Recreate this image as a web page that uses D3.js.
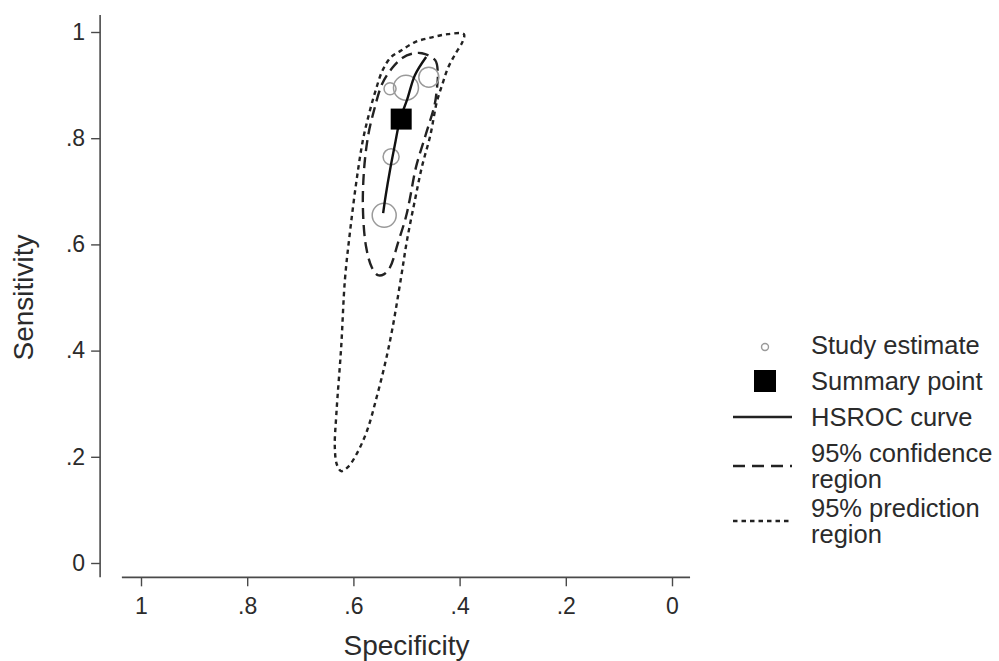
<!DOCTYPE html>
<html>
<head>
<meta charset="utf-8">
<script src="https://cdn.jsdelivr.net/npm/d3@7"></script>
<style>
  body { margin: 0; background: #fff; }
  svg text { font-family: "Liberation Sans", Arial, sans-serif; fill: #2b2b2b; }
</style>
</head>
<body>
<div id="chart"></div>
<script>
// Study estimates (specificity, sensitivity, relative weight)
const studySpec   = [0.531, 0.501, 0.458, 0.529, 0.542];
const studySens   = [0.893, 0.895, 0.915, 0.765, 0.655];
const studyWeight = [36, 156, 100, 64, 144];

// Summary operating point
const summarySpec = 0.510;
const summarySens = 0.836;

// HSROC curve
const hsrocSpec = [0.463, 0.484, 0.499, 0.512, 0.522, 0.531, 0.539, 0.544];
const hsrocSens = [0.953, 0.919, 0.872, 0.836, 0.787, 0.740, 0.693, 0.659];

// 95% confidence region
const confSpec = [0.471, 0.446, 0.441, 0.443, 0.447, 0.464, 0.482, 0.494, 0.501, 0.516, 0.531, 0.542,
                  0.554, 0.565, 0.576, 0.582, 0.580, 0.572, 0.561, 0.546, 0.527, 0.508, 0.490];
const confSens = [0.960, 0.947, 0.919, 0.891, 0.863, 0.806, 0.746, 0.684, 0.652, 0.603, 0.557, 0.544,
                  0.542, 0.556, 0.595, 0.665, 0.740, 0.806, 0.853, 0.902, 0.932, 0.951, 0.959];

// 95% prediction region
const predSpec = [0.392, 0.394, 0.409, 0.422, 0.433, 0.443, 0.455, 0.471, 0.484, 0.499, 0.511, 0.527,
                  0.540, 0.556, 0.574, 0.593, 0.610, 0.623, 0.631, 0.635, 0.632, 0.623, 0.616, 0.606,
                  0.594, 0.582, 0.571, 0.559, 0.545, 0.529, 0.512, 0.484, 0.452, 0.422];
const predSens = [0.996, 0.983, 0.957, 0.932, 0.900, 0.868, 0.806, 0.746, 0.684, 0.608, 0.533, 0.439,
                  0.377, 0.313, 0.250, 0.207, 0.181, 0.173, 0.185, 0.218, 0.282, 0.407, 0.533, 0.627,
                  0.721, 0.797, 0.844, 0.887, 0.928, 0.953, 0.964, 0.981, 0.990, 0.996];

const tickValues = [0, 0.2, 0.4, 0.6, 0.8, 1];
const legendLabels = [['Study estimate'], ['Summary point'], ['HSROC curve'],
                      ['95% confidence', 'region'], ['95% prediction', 'region']];

const W = 999, H = 661;

const svg = d3.select('#chart').append('svg')
    .attr('width', W)
    .attr('height', H);

// Scales: specificity runs from 1 down to 0
const x = d3.scaleLinear().domain([1, 0]).range([141, 672]);
const y = d3.scaleLinear().domain([0, 1]).range([563, 32]);
const r = d3.scaleSqrt().domain([0, d3.max(studyWeight)]).range([0, 12.5]);

const fmt = d => d === 0 ? '0' : d === 1 ? '1' : d3.format('.1f')(d).replace(/^0/, '');
const axisColor = '#4a4a4a';

// Y axis
const yAxisX = x(1.077);
const yAxisG = svg.append('g')
    .attr('transform', `translate(${yAxisX},0)`)
    .call(d3.axisLeft(y).tickValues(tickValues).tickFormat(fmt).tickSize(9).tickPadding(6).tickSizeOuter(0));
yAxisG.select('.domain').remove();
yAxisG.append('line')
    .attr('y1', y(1.032)).attr('y2', y(-0.027))
    .attr('stroke', axisColor).attr('stroke-width', 1.6);

// X axis
const xAxisY = y(-0.027);
const xAxisG = svg.append('g')
    .attr('transform', `translate(0,${xAxisY})`)
    .call(d3.axisBottom(x).tickValues(tickValues).tickFormat(fmt).tickSize(9).tickPadding(11).tickSizeOuter(0));
xAxisG.select('.domain').remove();
xAxisG.append('line')
    .attr('x1', x(1.036)).attr('x2', x(-0.034))
    .attr('stroke', axisColor).attr('stroke-width', 1.6);

svg.selectAll('.tick line').attr('stroke', axisColor).attr('stroke-width', 1.4);
svg.selectAll('.tick text').attr('font-size', 23).attr('fill', '#2b2b2b');

// Axis titles
svg.append('text')
    .attr('transform', `translate(33,${y(0.5)}) rotate(-90)`)
    .attr('text-anchor', 'middle')
    .attr('font-size', 28)
    .text('Sensitivity');
svg.append('text')
    .attr('x', x(0.5))
    .attr('y', 655)
    .attr('text-anchor', 'middle')
    .attr('font-size', 28)
    .text('Specificity');

// Plot marks
const plotArea = svg.append('g').attr('id', 'plot-area');

const pathOf = (specs, senss, curve) => d3.line()
    .x(d => x(d[0]))
    .y(d => y(d[1]))
    .curve(curve)(specs.map((s, i) => [s, senss[i]]));

// Prediction region (short dashes)
plotArea.append('path')
    .attr('d', pathOf(predSpec, predSens, d3.curveCatmullRomClosed.alpha(0.5)))
    .attr('fill', 'none')
    .attr('stroke', '#222')
    .attr('stroke-width', 2.4)
    .attr('stroke-dasharray', '4.5,4');

// Confidence region (long dashes)
plotArea.append('path')
    .attr('d', pathOf(confSpec, confSens, d3.curveCatmullRomClosed.alpha(0.5)))
    .attr('fill', 'none')
    .attr('stroke', '#222')
    .attr('stroke-width', 2.4)
    .attr('stroke-dasharray', '11,6');

// Study estimates
const studies = studySpec.map((s, i) => ({spec: s, sens: studySens[i], w: studyWeight[i]}));
plotArea.append('g')
  .selectAll('circle')
  .data(studies)
  .join('circle')
    .attr('cx', d => x(d.spec))
    .attr('cy', d => y(d.sens))
    .attr('r', d => r(d.w))
    .attr('fill', 'none')
    .attr('stroke', '#9a9a9a')
    .attr('stroke-width', 1.5);

// HSROC curve
plotArea.append('path')
    .attr('d', pathOf(hsrocSpec, hsrocSens, d3.curveCatmullRom.alpha(0.5)))
    .attr('fill', 'none')
    .attr('stroke', '#111')
    .attr('stroke-width', 2.4);

// Summary point
const sq = 21;
plotArea.append('rect')
    .attr('x', x(summarySpec) - sq / 2)
    .attr('y', y(summarySens) - sq / 2)
    .attr('width', sq)
    .attr('height', sq)
    .attr('fill', '#000');

// Legend
const legend = svg.append('g').attr('transform', 'translate(765,0)');
const rowY = [345, 381, 417, 466, 521];
const textX = 46;
const lineH = 26;

legend.selectAll('g.item')
  .data(legendLabels)
  .join('g')
    .attr('class', 'item')
    .each(function(lines, i) {
      const g = d3.select(this);
      const top = rowY[i] - (lines.length - 1) * lineH / 2;
      lines.forEach((t, j) => {
        g.append('text')
          .attr('x', textX)
          .attr('y', top + j * lineH)
          .attr('dy', '0.35em')
          .attr('font-size', 25.5)
          .text(t);
      });
      if (i === 0) {
        g.append('circle').attr('cy', rowY[i] + 2).attr('r', 3.5)
          .attr('fill', 'none').attr('stroke', '#9a9a9a').attr('stroke-width', 1.4);
      } else if (i === 1) {
        g.append('rect').attr('x', -11).attr('y', rowY[i] - 11)
          .attr('width', 22).attr('height', 22).attr('fill', '#000');
      } else {
        const dash = i === 3 ? '12,7' : i === 4 ? '4.5,4' : null;
        g.append('line')
          .attr('x1', -32).attr('x2', 27)
          .attr('y1', rowY[i]).attr('y2', rowY[i])
          .attr('stroke', '#222').attr('stroke-width', 2.4)
          .attr('stroke-dasharray', dash);
      }
    });
</script>
</body>
</html>
